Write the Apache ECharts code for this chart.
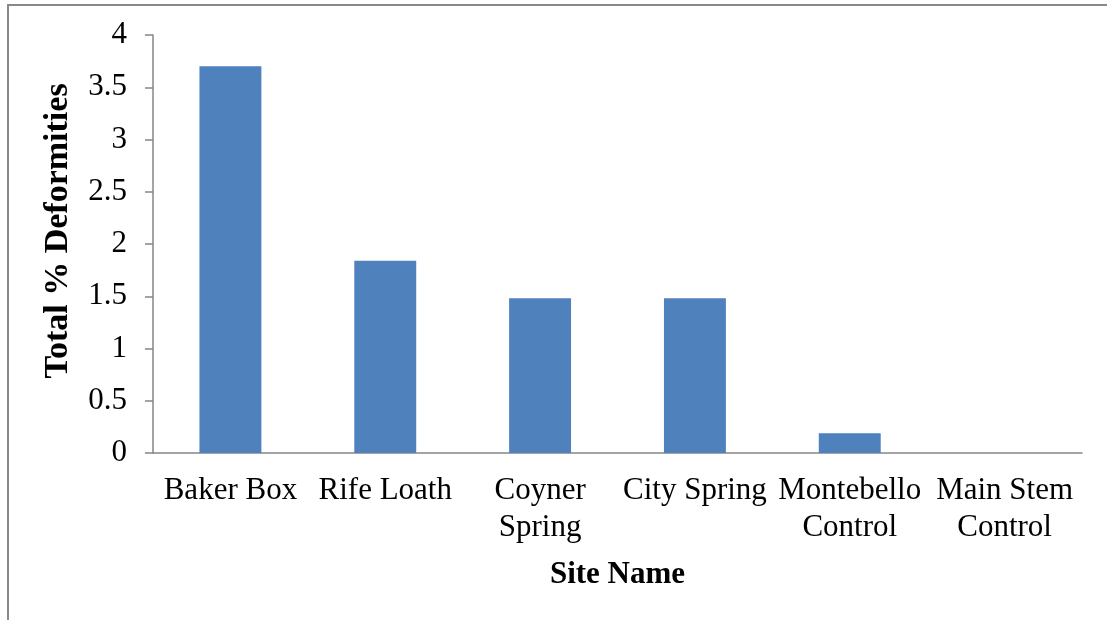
<!DOCTYPE html>
<html>
<head>
<meta charset="utf-8">
<script src="https://cdn.jsdelivr.net/npm/echarts@6/dist/echarts.min.js"></script>
<style>
  html, body { margin: 0; padding: 0; background: #fff; }
  #chart { width: 1107px; height: 620px; }
</style>
</head>
<body>
<div id="chart"></div>
<script>
// site names, as wrapped under the axis
const sites = [
  'Baker Box',
  'Rife Loath',
  'Coyner\nSpring',
  'City Spring',
  'Montebello\nControl',
  'Main Stem\nControl',
];
// total % deformities per site
const deformities = [3.70, 1.84, 1.48, 1.48, 0.19, 0];

const chart = echarts.init(document.getElementById('chart'));
const axisGrey = '#868686';
const serif = '"Liberation Serif", "Times New Roman", serif';

chart.setOption({
  animation: false,
  grid: {
    left: 153, right: 25, top: 35, bottom: 167, containLabel: false,
  },
  graphic: [
    // outer frame (top and left edges only are visible)
    {
      type: 'line',
      shape: { x1: 7, y1: 5, x2: 1107, y2: 5 },
      style: { stroke: '#898989', lineWidth: 2 },
    },
    {
      type: 'line',
      shape: { x1: 8, y1: 5, x2: 8, y2: 620 },
      style: { stroke: '#898989', lineWidth: 2 },
    },
  ],
  xAxis: {
    type: 'category',
    data: sites,
    name: 'Site Name',
    nameLocation: 'middle',
    nameGap: 106,
    nameTextStyle: {
      fontFamily: serif, fontSize: 31, fontWeight: 'bold', color: '#000',
    },
    axisLine: { lineStyle: { color: axisGrey, width: 1.5 } },
    axisTick: { length: 8, lineStyle: { color: axisGrey, width: 1.5 } },
    axisLabel: {
      interval: 0,
      margin: 19,
      fontFamily: serif,
      fontSize: 31,
      lineHeight: 37,
      color: '#000',
    },
  },
  yAxis: {
    type: 'value',
    min: 0,
    max: 4,
    interval: 0.5,
    name: 'Total % Deformities',
    nameLocation: 'middle',
    nameGap: 78,
    nameTextStyle: {
      fontFamily: serif,
      fontSize: 34,
      fontWeight: 'bold',
      color: '#000',
      padding: [0, 0, 0, 26],
    },
    axisLine: { show: true, lineStyle: { color: axisGrey, width: 1.5 } },
    axisTick: { show: true, length: 8, lineStyle: { color: axisGrey, width: 1.5 } },
    splitLine: { show: false },
    axisLabel: {
      margin: 26,
      fontFamily: serif,
      fontSize: 31,
      color: '#000',
    },
  },
  series: [{
    type: 'bar',
    data: deformities,
    barWidth: '40%',
    itemStyle: { color: '#4F81BD' },
  }],
});
</script>
</body>
</html>
